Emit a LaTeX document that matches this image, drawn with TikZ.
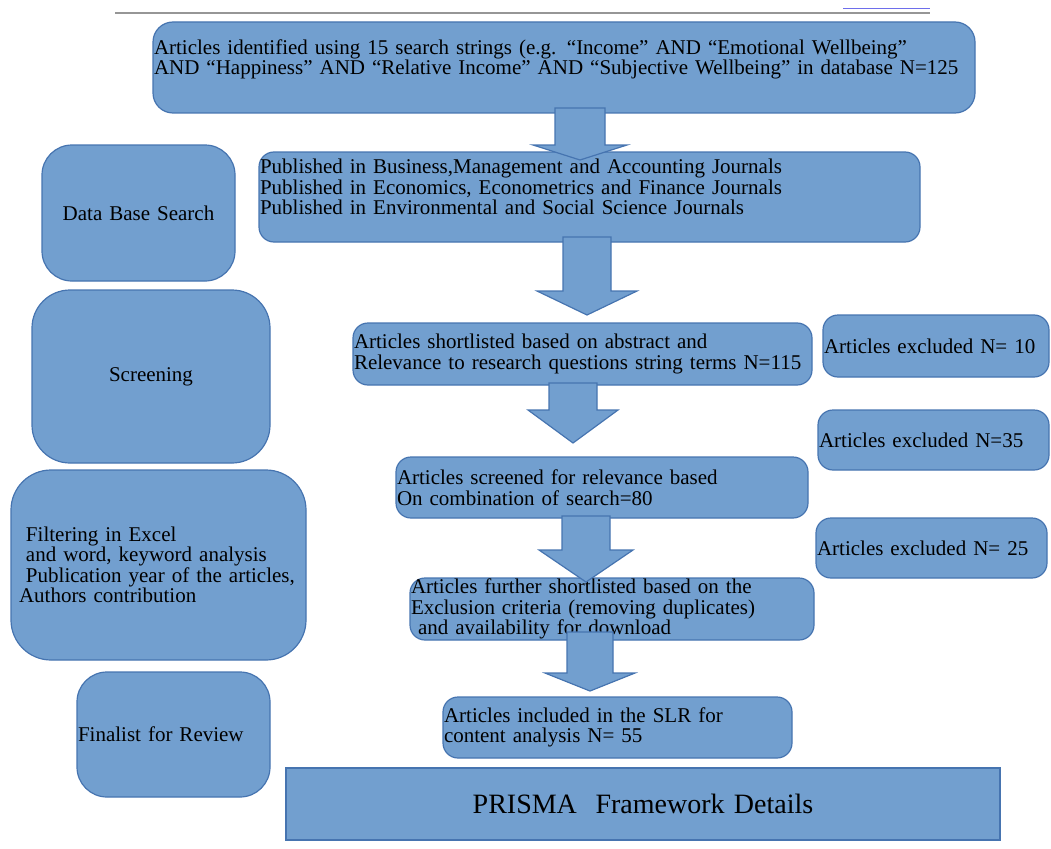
\documentclass[tikz,border=0pt]{standalone}
\usepackage{fontspec}
\setmainfont{Liberation Serif}
\definecolor{boxblue}{RGB}{114,159,207}
\definecolor{bdr}{RGB}{70,116,176}
\definecolor{rule}{RGB}{150,150,150}
\definecolor{linkblue}{RGB}{110,110,235}
\newcommand{\bodyfont}{\fontsize{21}{20.5}\selectfont}
\begin{document}
\begin{tikzpicture}[
  x=1pt, y=-1pt,
  box/.style={draw=bdr, fill=boxblue, line width=1.2pt, rectangle, rounded corners=15pt,
              align=left, inner xsep=1pt, inner ysep=0pt, font=\bodyfont},
  side/.style={box, rounded corners=30pt},
  excl/.style={box, minimum height=61pt, text width=228pt},
  barr/.style={draw=bdr, fill=boxblue, line width=1.2pt, line join=miter}
]
\useasboundingbox (0,0) rectangle (1051,848);
\draw[rule, line width=1.2pt] (115,13) -- (930,13);
\draw[linkblue, line width=1pt] (843,9) -- (930,9);

\node[box, rounded corners=20pt, minimum height=91pt, text width=820pt] (ident) at (564,67.5)
  {Articles identified using 15 search strings (e.g. “Income” AND “Emotional Wellbeing”\\
   AND “Happiness” AND “Relative Income” AND “Subjective Wellbeing” in database N=125\\ ~};
\node[box, minimum height=90pt, text width=659pt] (pub) at (589.5,197)
  {Published in Business,Management and Accounting Journals\\
   Published in Economics, Econometrics and Finance Journals\\
   Published in Environmental and Social Science Journals\\ ~};
\node[box, minimum height=62pt, text width=457pt] (short) at (582.5,354)
  {Articles shortlisted based on abstract and\\
   Relevance to research questions string terms N=115};
\node[box, minimum height=61pt, text width=410pt] (screen) at (602,487.5)
  {Articles  screened for relevance based\\
   On combination of search=80};
\node[box, minimum height=62pt, text width=402pt] (further) at (612,609)
  {Articles further shortlisted based on the\\
   Exclusion criteria (removing duplicates)\\
   \ and availability for download};
\node[box, minimum height=61pt, text width=347pt] (incl) at (617.5,727.5)
  {Articles included in the SLR for\\
   content analysis N= 55};
\node[box, rounded corners=0pt, minimum height=72pt, text width=712pt, align=center,
      font=\fontsize{28}{30}\selectfont] (prisma) at (643,804)
  {PRISMA~ Framework Details};

\node[excl, minimum height=62pt, text width=224pt] (ex10) at (936,346) {Articles excluded N= 10};
\node[excl, minimum height=60pt, text width=229pt] (ex35) at (933.5,440) {Articles excluded N=35};
\node[excl, minimum height=60pt, text width=229pt] (ex25) at (931.5,548) {Articles excluded N= 25};

\node[side, minimum height=136pt, text width=191pt, align=center] (dbs) at (138.5,213) {Data Base Search};
\node[side, rounded corners=38pt, minimum height=173pt, text width=236pt, align=center] (scr) at (151,376.5)
  {Screening\hspace{20pt}};
\node[side, rounded corners=40pt, minimum height=190pt, text width=279pt, inner xsep=8pt] (filt) at (158.5,565)
  {\ Filtering in Excel\\
   \ and word, keyword analysis\\
   \ Publication year of the articles,\\
   Authors contribution};
\node[side, minimum height=125pt, text width=191pt] (fin) at (173.5,734.5) {Finalist for Review};

\draw[barr] (555,108) -- (605,108) -- (605,145) -- (627,145) -- (580,160) -- (533,145) -- (555,145) -- cycle;
\draw[barr] (563,237) -- (611,237) -- (611,291) -- (637,291) -- (587,315) -- (537,291) -- (563,291) -- cycle;
\draw[barr] (549,383) -- (597,383) -- (597,410) -- (618,410) -- (573,443) -- (528,410) -- (549,410) -- cycle;
\draw[barr] (562,516) -- (610,516) -- (610,550) -- (633,550) -- (586,582) -- (539,550) -- (562,550) -- cycle;
\draw[barr] (567,632) -- (613,632) -- (613,673) -- (635,673) -- (590,691) -- (545,673) -- (567,673) -- cycle;
\end{tikzpicture}
\end{document}
